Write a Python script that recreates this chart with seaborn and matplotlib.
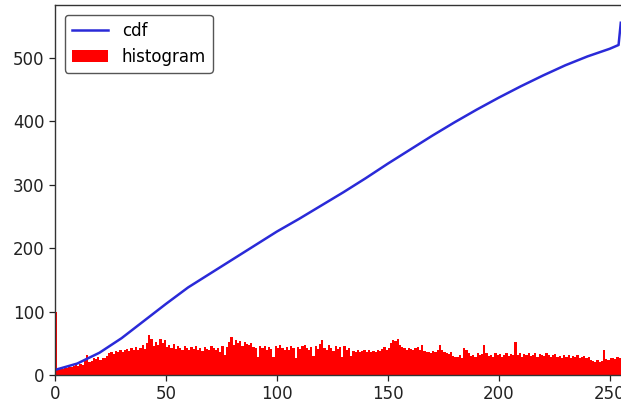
import numpy as np
import matplotlib
matplotlib.use("Agg")
import matplotlib.pyplot as plt
import seaborn as sns
from matplotlib.lines import Line2D
from matplotlib.patches import Patch

# Histogram counts for intensity bins 0..255
hist_counts = [
    100, 8, 9, 10, 12, 11, 13, 12, 14, 15, 14, 17, 16, 24, 31, 20,
    22, 27, 25, 28, 24, 27, 26, 30, 35, 37, 33, 38, 36, 40, 37, 39,
    41, 38, 42, 39, 44, 40, 43, 47, 41, 50, 63, 56, 45, 52, 48, 57,
    50, 55, 44, 47, 42, 49, 41, 45, 43, 40, 46, 42, 39, 44, 41, 45,
    40, 43, 38, 44, 41, 39, 45, 42, 40, 43, 37, 46, 31, 44, 52, 60,
    48, 55, 50, 53, 46, 52, 49, 47, 51, 44, 42, 29, 45, 43, 46, 40,
    44, 41, 28, 45, 42, 47, 43, 40, 44, 39, 46, 42, 27, 44, 41, 45,
    48, 42, 39, 44, 30, 46, 41, 49, 55, 43, 40, 47, 42, 38, 45, 41,
    44, 28, 46, 40, 43, 30, 38, 37, 39, 36, 38, 40, 37, 39, 36, 38,
    37, 40, 38, 41, 44, 39, 43, 50, 55, 53, 56, 48, 44, 42, 40, 43,
    41, 39, 42, 44, 40, 47, 38, 36, 37, 35, 38, 36, 40, 47, 39, 36,
    35, 33, 36, 30, 28, 29, 31, 27, 42, 40, 35, 30, 32, 29, 34, 31,
    33, 47, 35, 30, 32, 28, 34, 31, 33, 29, 32, 35, 30, 33, 31, 52,
    32, 34, 29, 33, 31, 35, 30, 32, 34, 28, 33, 31, 30, 34, 32, 29,
    31, 33, 28, 30, 27, 32, 29, 31, 26, 30, 28, 31, 27, 29, 30, 26,
    28, 23, 22, 21, 23, 20, 22, 39, 25, 24, 26, 27, 25, 28, 26, 555,
]
bin_index = list(range(256))

# Normalised cumulative distribution
cdf_x = [0, 10, 20, 30, 40, 50, 60, 70, 80, 90, 100, 110, 120, 130, 140,
         150, 160, 170, 180, 190, 200, 210, 220, 230, 240, 250, 254, 255]
cdf_y = [8, 18, 35, 58, 85, 112, 138, 160, 182, 204, 226, 246, 267, 288, 310,
         333, 355, 377, 398, 418, 437, 455, 472, 488, 502, 514, 520, 555]

x_ticks = [0, 50, 100, 150, 200, 250]
y_ticks = [0, 100, 200, 300, 400, 500]
legend_labels = ["cdf", "histogram"]

fig = plt.figure(figsize=(6.21, 4.05), dpi=100)
ax = fig.add_axes([55 / 621, 30 / 405, 568 / 621, 370 / 405])

line_color = "#2a2ad8"
sns.histplot(x=np.array(bin_index) + 0.5, weights=hist_counts, bins=256,
             binrange=(0, 256), color="#ff0000", alpha=1, linewidth=0,
             element="bars", fill=True, ax=ax)
sns.lineplot(x=cdf_x, y=cdf_y, color=line_color, linewidth=1.8, ax=ax)

ax.set_xlim(0, 256)
ax.set_ylim(0, 583)
ax.set_xticks(x_ticks)
ax.set_yticks(y_ticks)
ax.set_xlabel("")
ax.set_ylabel("")
ax.tick_params(labelsize=12, length=4, width=0.9, colors="#222222")
for s in ax.spines.values():
    s.set_color("#333333")
    s.set_linewidth(1.0)

handles = [Line2D([0], [0], color=line_color, linewidth=1.8),
           Patch(facecolor="#ff0000", edgecolor="none")]
leg = ax.legend(handles, legend_labels, loc="upper left", fontsize=12,
                frameon=True, edgecolor="#555555", framealpha=1,
                handlelength=2.2, borderaxespad=0.6)

fig.savefig("out.png", dpi=100)
